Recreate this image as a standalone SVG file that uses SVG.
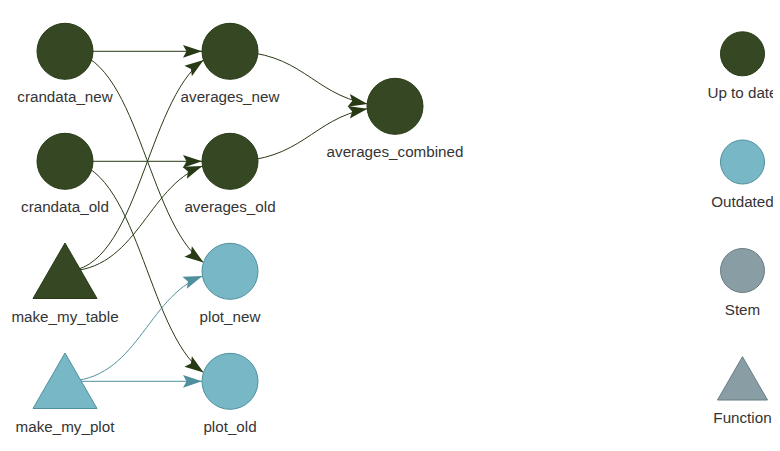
<svg xmlns="http://www.w3.org/2000/svg" width="780" height="451" viewBox="0 0 780 451">
<style>
.lbl{font-family:"Liberation Sans",Arial,sans-serif;font-size:15.2px;fill:#343434;text-anchor:middle}
.up{fill:#354823;stroke:#273A15;stroke-width:1}
.out{fill:#78B7C5;stroke:#50909E;stroke-width:1}
.stem{fill:#899DA4;stroke:#687C83;stroke-width:1}
.ed{fill:none;stroke:#273A15;stroke-width:1;marker-end:url(#ad)}
.eb{fill:none;stroke:#50909E;stroke-width:1;marker-end:url(#ab)}
</style>
<defs>
<marker id="ad" viewBox="-20 -7 21 14" refX="0" refY="0" markerWidth="21" markerHeight="14" markerUnits="userSpaceOnUse" orient="auto"><path d="M0,0 L-19,6.4 L-15.5,0 L-19,-6.4 Z" fill="#273A15"/></marker>
<marker id="ab" viewBox="-20 -7 21 14" refX="0" refY="0" markerWidth="21" markerHeight="14" markerUnits="userSpaceOnUse" orient="auto"><path d="M0,0 L-19,6.4 L-15.5,0 L-19,-6.4 Z" fill="#50909E"/></marker>
<clipPath id="cl"><rect x="0" y="0" width="773" height="451"/></clipPath>
</defs>
<rect width="780" height="451" fill="#ffffff"/>
<g id="connectors">
<path class="ed" d="M65,51.3 L202,51.3"/>
<path class="ed" d="M65,161.3 L202,161.3"/>
<path class="ed" d="M65,51.3 C137.6,51.3 146.3,221.7 203.6,262.6"/>
<path class="ed" d="M65,161.3 C137.6,161.3 146.3,331.7 203.6,372.6"/>
<path class="ed" d="M65,271.3 C137.6,271.3 146.3,100.9 203.6,60.0"/>
<path class="ed" d="M65,271.3 C137.1,271.3 146.2,187.3 202.4,166.1"/>
<path class="eb" d="M65,381.3 C137.1,381.3 146.2,297.3 202.4,276.1"/>
<path class="eb" d="M65,381.3 L202,381.3"/>
<path class="ed" d="M230,51.3 C302.1,51.3 311.2,93.3 367.4,103.9"/>
<path class="ed" d="M230,161.3 C302.1,161.3 311.2,119.3 367.4,108.7"/>
</g>
<g id="crandata_new"><circle class="up" cx="65" cy="51.3" r="28"/><text class="lbl" x="65" y="102">crandata_new</text></g>
<g id="crandata_old"><circle class="up" cx="65" cy="161.3" r="28"/><text class="lbl" x="65" y="212">crandata_old</text></g>
<g id="make_my_table"><polygon class="up" points="65,243 97,298.5 33,298.5"/><text class="lbl" x="65" y="322">make_my_table</text></g>
<g id="make_my_plot"><polygon class="out" points="65,353 97,408.5 33,408.5"/><text class="lbl" x="65" y="432">make_my_plot</text></g>
<g id="averages_new"><circle class="up" cx="230" cy="51.3" r="28"/><text class="lbl" x="230" y="102">averages_new</text></g>
<g id="averages_old"><circle class="up" cx="230" cy="161.3" r="28"/><text class="lbl" x="230" y="212">averages_old</text></g>
<g id="plot_new"><circle class="out" cx="230" cy="271.3" r="28"/><text class="lbl" x="230" y="322">plot_new</text></g>
<g id="plot_old"><circle class="out" cx="230" cy="381.3" r="28"/><text class="lbl" x="230" y="432">plot_old</text></g>
<g id="averages_combined"><circle class="up" cx="395" cy="106.3" r="28"/><text class="lbl" x="395" y="157">averages_combined</text></g>
<g id="legend" clip-path="url(#cl)">
<g id="legend_up_to_date"><circle class="up" cx="742.5" cy="53.8" r="22"/><text class="lbl" x="742.5" y="98.3">Up to date</text></g>
<g id="legend_outdated"><circle class="out" cx="742.5" cy="162" r="22"/><text class="lbl" x="742.5" y="206.7">Outdated</text></g>
<g id="legend_stem"><circle class="stem" cx="742.5" cy="270.5" r="22"/><text class="lbl" x="742.5" y="315">Stem</text></g>
<g id="legend_function"><polygon class="stem" points="742.5,356.7 767.5,400 717.5,400"/><text class="lbl" x="742.5" y="423.3">Function</text></g>
</g>
</svg>
